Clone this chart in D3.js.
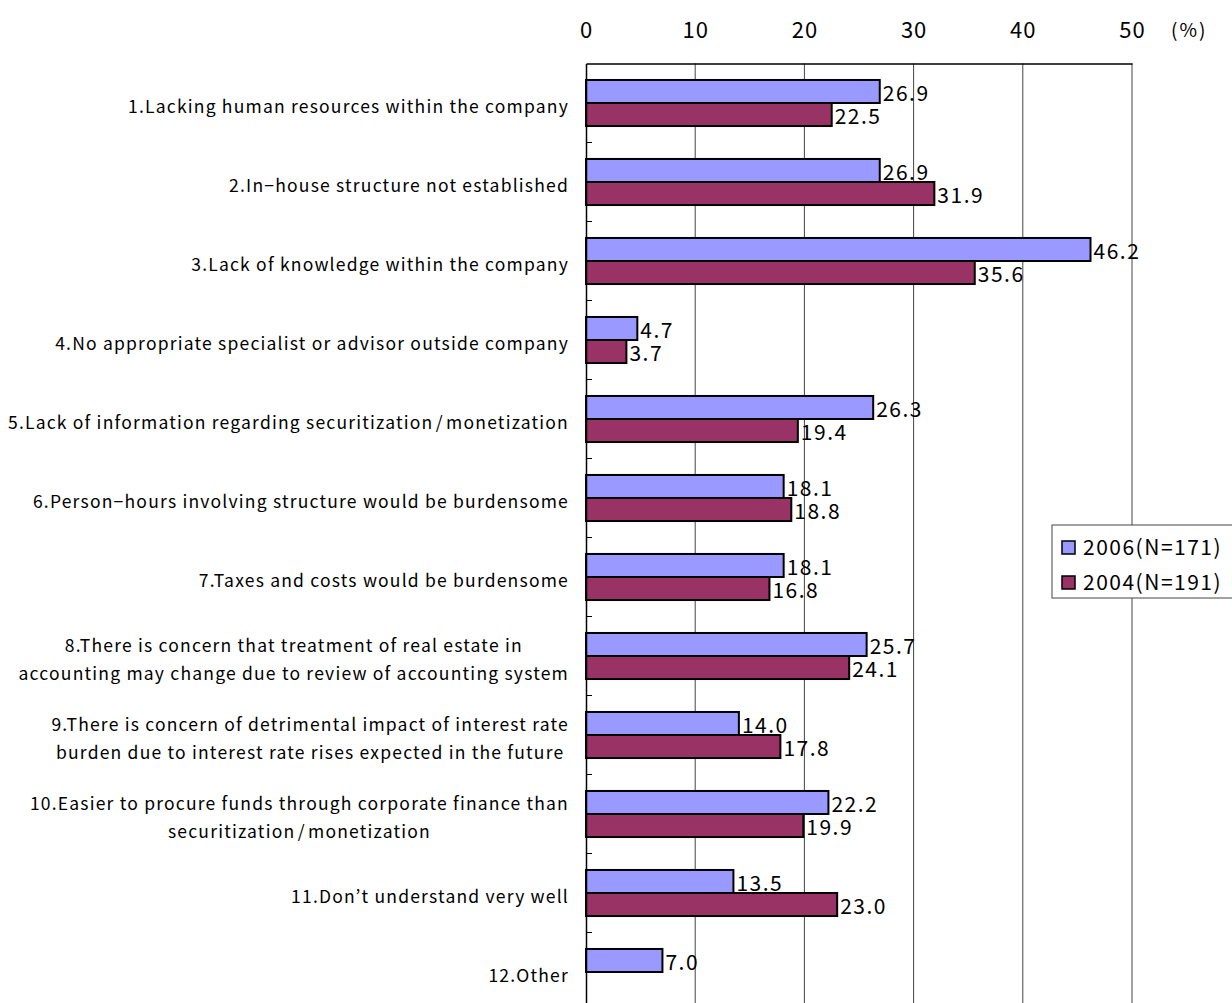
<!DOCTYPE html>
<html>
<head>
<meta charset="utf-8">
<script src="https://cdn.jsdelivr.net/npm/d3@7"></script>
<style>
  html, body { margin: 0; padding: 0; background: #fff; }
  svg { display: block; }
  text { font-family: "Noto Sans CJK JP", "Noto Sans", sans-serif; fill: #000; }
</style>
</head>
<body>
<svg id="chart" width="1232" height="1003"></svg>
<script>
// Reasons for not considering securitization / monetization (multiple answers, %)
const categories = [
  ["1.Lacking human resources within the company"],
  ["2.In\u2212house structure not established"],
  ["3.Lack of knowledge within the company"],
  ["4.No appropriate specialist or advisor outside company"],
  ["5.Lack of information regarding securitization\u200A/\u200Amonetization"],
  ["6.Person\u2212hours involving structure would be burdensome"],
  ["7.Taxes and costs would be burdensome"],
  ["8.There is concern that treatment of real estate in", "accounting may change due to review of accounting system"],
  ["9.There is concern of detrimental impact of interest rate", "burden due to interest rate rises expected in the future"],
  ["10.Easier to procure funds through corporate finance than", "securitization\u200A/\u200Amonetization"],
  ["11.Don\u2019t understand very well"],
  ["12.Other"]
];
const seriesNames = ["2006(N=171)", "2004(N=191)"];
const values2006 = [26.9, 26.9, 46.2, 4.7, 26.3, 18.1, 18.1, 25.7, 14.0, 22.2, 13.5, 7.0];
const values2004 = [22.5, 31.9, 35.6, 3.7, 19.4, 18.8, 16.8, 24.1, 17.8, 19.9, 23.0, null];
const xTicks = [0, 10, 20, 30, 40, 50];
const colors = ["#9999FF", "#993366"];

const svg = d3.select("#chart");
const plotLeft = 586, plotRight = 1132, plotTop = 63.5, step = 79;
const plotBottom = plotTop + step * categories.length;

const x = d3.scaleLinear().domain([0, 50]).range([plotLeft, plotRight]);
const idx = categories.map((d, i) => i);
const y = d3.scaleBand().domain(idx).range([plotTop, plotBottom])
  .paddingInner(0.417).paddingOuter(0.2085);
const ySub = d3.scaleBand().domain([0, 1]).range([0, y.bandwidth()]);

const rows = idx.map(i => ({ i, vals: [values2006[i], values2004[i]] }));

// vertical gridlines
svg.append("g").selectAll("line").data(xTicks.slice(1)).join("line")
  .attr("x1", d => x(d)).attr("x2", d => x(d))
  .attr("y1", plotTop).attr("y2", plotBottom)
  .attr("stroke", "#444").attr("stroke-width", 1);

// top axis labels
const xAxis = d3.axisTop(x).tickValues(xTicks).tickSize(0).tickPadding(0);
const gx = svg.append("g").attr("transform", `translate(0,${plotTop})`).call(xAxis);
gx.select(".domain").attr("stroke", "#000").attr("stroke-width", 1.5);
gx.selectAll(".tick text")
  .attr("y", 30 - plotTop).attr("dy", "0.35em")
  .style("font-size", "22px").style("letter-spacing", "1px")
  .style("font-family", "\"Noto Sans CJK JP\", sans-serif");
svg.append("text").attr("x", 1171).attr("y", 30).attr("dy", "0.35em")
  .style("font-size", "19px").style("letter-spacing", "2px").text("(%)");

// bars
const g = svg.append("g");
rows.forEach(r => {
  r.vals.forEach((v, s) => {
    if (v == null) return;
    const yy = y(r.i) + ySub(s);
    g.append("rect")
      .attr("x", x(0)).attr("y", yy)
      .attr("width", x(v) - x(0)).attr("height", ySub.bandwidth())
      .attr("fill", colors[s]).attr("stroke", "#000").attr("stroke-width", 2);
  });
});

// value labels
rows.forEach(r => {
  r.vals.forEach((v, s) => {
    if (v == null) return;
    const yy = y(r.i) + ySub(s) + ySub.bandwidth() / 2 + 2;
    svg.append("text")
      .attr("x", x(v) + 3).attr("y", yy).attr("dy", "0.35em")
      .style("font-size", "21px").style("letter-spacing", "1.5px")
      .text(v.toFixed(1));
  });
});

// left axis with minor ticks at band boundaries
const yAxis = d3.axisLeft(y).tickSize(0).tickFormat("");
const gy = svg.append("g").attr("transform", `translate(${plotLeft},0)`).call(yAxis);
gy.select(".domain").attr("stroke", "#000").attr("stroke-width", 1.5);
svg.append("g").selectAll("line").data(d3.range(1, categories.length)).join("line")
  .attr("x1", plotLeft).attr("x2", plotLeft + 6)
  .attr("y1", d => plotTop + step * d).attr("y2", d => plotTop + step * d)
  .attr("stroke", "#000").attr("stroke-width", 1);

// category labels: right-aligned block, lines centred within it
const labelRight = 569, lineGap = 28;
categories.forEach((lines, i) => {
  const cy = y(i) + y.bandwidth() / 2 + 3.5;
  const grp = svg.append("g");
  const texts = lines.map((ln, k) => grp.append("text")
    .attr("y", cy + (k - (lines.length - 1) / 2) * lineGap)
    .attr("dy", "0.35em")
    .style("font-size", "17.5px").style("letter-spacing", "1.2px")
    .text(ln));
  const w = d3.max(texts, t => t.node().getComputedTextLength());
  texts.forEach(t => t.attr("x", labelRight - w / 2).attr("text-anchor", "middle"));
});

// legend
const lg = svg.append("g").attr("transform", "translate(1052,525)");
lg.append("rect").attr("x", 0).attr("y", 0).attr("width", 200).attr("height", 73)
  .attr("fill", "#fff").attr("stroke", "#444").attr("stroke-width", 1);
seriesNames.forEach((name, s) => {
  const yy = 23 + s * 35;
  lg.append("rect").attr("x", 10).attr("y", yy - 7).attr("width", 13).attr("height", 13)
    .attr("fill", colors[s]).attr("stroke", "#000").attr("stroke-width", 1.5);
  lg.append("text").attr("x", 31).attr("y", yy).attr("dy", "0.35em")
    .style("font-size", "21px").style("letter-spacing", "1.5px").text(name);
});
</script>
</body>
</html>
